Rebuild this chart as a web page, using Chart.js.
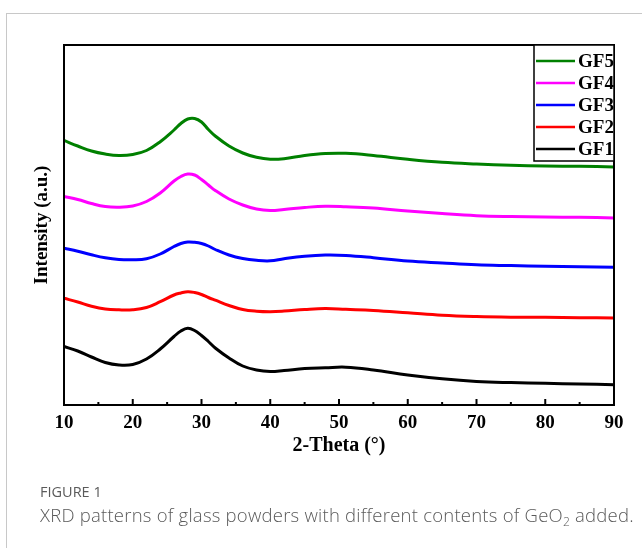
<!DOCTYPE html>
<html>
<head>
<meta charset="utf-8">
<script src="https://cdn.jsdelivr.net/npm/chart.js@4.4.1/dist/chart.umd.min.js"></script>
<style>
  html, body { margin: 0; padding: 0; background: #fff; }
  #wrap { position: relative; width: 642px; height: 548px; overflow: hidden; }
  #frame { position: absolute; left: 6px; top: 13px; width: 700px; height: 600px;
           border-top: 1px solid #c8c8c8; border-left: 1px solid #c8c8c8; }
  canvas { position: absolute; left: 0; top: 0; }
  #figlabel { position: absolute; left: 40px; top: 482px; font-family: "Open Sans", sans-serif;
              font-size: 14.5px; color: #5a5a5a; }
  #figcap { position: absolute; left: 40px; top: 502px; font-family: "Open Sans", sans-serif;
            font-size: 18.5px; font-weight: 300; color: #5a5a5a; white-space: nowrap; letter-spacing: 0.23px; }
  #figcap sub { font-size: 12px; vertical-align: -4px; }
</style>
</head>
<body>
<div id="wrap">
  <div id="frame"></div>
  <canvas id="c" width="642" height="548"></canvas>
  <div id="figlabel">FIGURE 1</div>
  <div id="figcap">XRD patterns of glass powders with different contents of GeO<sub>2</sub> added.</div>
</div>
<script>
// 2-Theta positions (degrees)
const twoTheta = [10,12,14,16,18,20,22,24,26,27,28,29,30,31,32,34,36,38,40,42,45,48,51,55,60,65,70,75,80,85,90];
// Intensities (a.u., stacked offsets as in the figure)
const gf1 = [56.5,52,46,40.5,38,38.5,44,54,66.5,72,74.7,72.5,67.5,61.5,55,45,37,33,31.5,32.5,34.4,35.2,35.8,33,28,24.2,21.6,20.4,19.7,19,18.3];
const gf2 = [104.8,101,96.8,94,93.2,93.3,95.5,101.3,108,110,111.3,110.5,108.5,105.5,102.8,97.5,93.5,91.8,91.3,91.9,93.5,94.5,93.7,92.6,90.2,87.7,86.4,85.8,85.7,85.3,85];
const gf3 = [154.8,151.8,148.2,145.2,143.5,143.2,144.2,149,156.5,159.5,161,160.7,159.5,157,153.5,148,144.5,142.7,142.2,144.3,146.7,147.9,147.5,145.3,142,140,138.2,137.4,136.7,136.3,135.7];
const gf4 = [206.5,203.5,199.5,196.5,195.8,197,201.5,210,222,226.5,229,228,223.5,218,212.5,204,198,194,192.5,193.5,195.5,196.8,196.3,195,192,189.4,187.3,186.4,186,185.7,185];
const gf5 = [262.5,257,252,249,247.5,248.5,252.5,261.3,273,279.5,284,284.5,281,273.5,267,257,250,245.7,243.7,244.3,247.5,249.5,249.7,247.5,243.7,240.7,239,237.8,237,236.7,236];
const seriesNames = ["GF1","GF2","GF3","GF4","GF5"];
const seriesColors = ["#000000","#ff0000","#0000ff","#ff00ff","#008000"];
const seriesValues = [gf1, gf2, gf3, gf4, gf5];
const xMajorTicks = [10,20,30,40,50,60,70,80,90];
const xMinorTicks = [15,25,35,45,55,65,75,85];

const serif = "'Liberation Serif', 'Times New Roman', serif";

const datasets = seriesNames.map((name, i) => ({
  label: name,
  data: twoTheta.map((t, j) => ({ x: t, y: seriesValues[i][j] })),
  borderColor: seriesColors[i],
  backgroundColor: seriesColors[i],
  borderWidth: 3,
  pointRadius: 0,
  tension: 0.4,
  fill: false
}));

const framePlugin = {
  id: 'framePlugin',
  afterDraw(chart) {
    const ctx = chart.ctx;
    const a = chart.chartArea;
    const xs = chart.scales.x;
    ctx.save();
    // inward ticks on bottom axis
    ctx.strokeStyle = '#000';
    ctx.lineWidth = 2;
    xMajorTicks.forEach(v => {
      const px = xs.getPixelForValue(v);
      ctx.beginPath(); ctx.moveTo(px, a.bottom); ctx.lineTo(px, a.bottom - 6); ctx.stroke();
    });
    xMinorTicks.forEach(v => {
      const px = xs.getPixelForValue(v);
      ctx.beginPath(); ctx.moveTo(px, a.bottom); ctx.lineTo(px, a.bottom - 3); ctx.stroke();
    });
    // plot frame
    ctx.lineWidth = 2;
    ctx.strokeRect(a.left, a.top, a.right - a.left, a.bottom - a.top);
    // legend box
    const lx = a.right - 80, ly = a.top, lw = 80, lh = 116;
    ctx.fillStyle = '#fff';
    ctx.fillRect(lx, ly, lw, lh);
    ctx.lineWidth = 1.5;
    ctx.strokeRect(lx, ly, lw, lh);
    ctx.font = "bold 19px " + serif;
    ctx.textBaseline = 'middle';
    ctx.textAlign = 'left';
    const ds = chart.data.datasets.slice().reverse();
    ds.forEach((d, k) => {
      const y = ly + 16 + k * 22;
      ctx.strokeStyle = d.borderColor;
      ctx.lineWidth = 2.5;
      ctx.beginPath(); ctx.moveTo(lx + 2, y); ctx.lineTo(lx + 41, y); ctx.stroke();
      ctx.fillStyle = '#000';
      ctx.fillText(d.label, lx + 44, y + 1);
    });
    ctx.restore();
  }
};

new Chart(document.getElementById('c'), {
  type: 'line',
  data: { datasets },
  options: {
    responsive: false,
    animation: false,
    layout: { padding: { left: 0, top: 45, right: 28, bottom: 83 } },
    plugins: { legend: { display: false }, tooltip: { enabled: false } },
    scales: {
      x: {
        type: 'linear',
        min: 10, max: 90,
        grid: { display: false, drawTicks: false },
        border: { display: false },
        ticks: {
          stepSize: 10,
          autoSkip: false,
          maxRotation: 0,
          padding: 7,
          color: '#000',
          font: { family: serif, size: 19, weight: 'bold' }
        },
        title: {
          display: true,
          text: '2-Theta (°)',
          color: '#000',
          font: { family: serif, size: 20, weight: 'bold' },
          padding: { top: 0, bottom: 7 }
        },
        afterFit(s) { s.height = 60; }
      },
      y: {
        min: -2, max: 358,
        grid: { display: false, drawTicks: false },
        border: { display: false },
        ticks: { display: false },
        title: {
          display: true,
          text: 'Intensity (a.u.)',
          color: '#000',
          font: { family: serif, size: 19, weight: 'bold' },
          padding: { top: 31, bottom: 0 }
        },
        afterFit(s) { s.width = 64; }
      }
    }
  },
  plugins: [framePlugin]
});
</script>
</body>
</html>
